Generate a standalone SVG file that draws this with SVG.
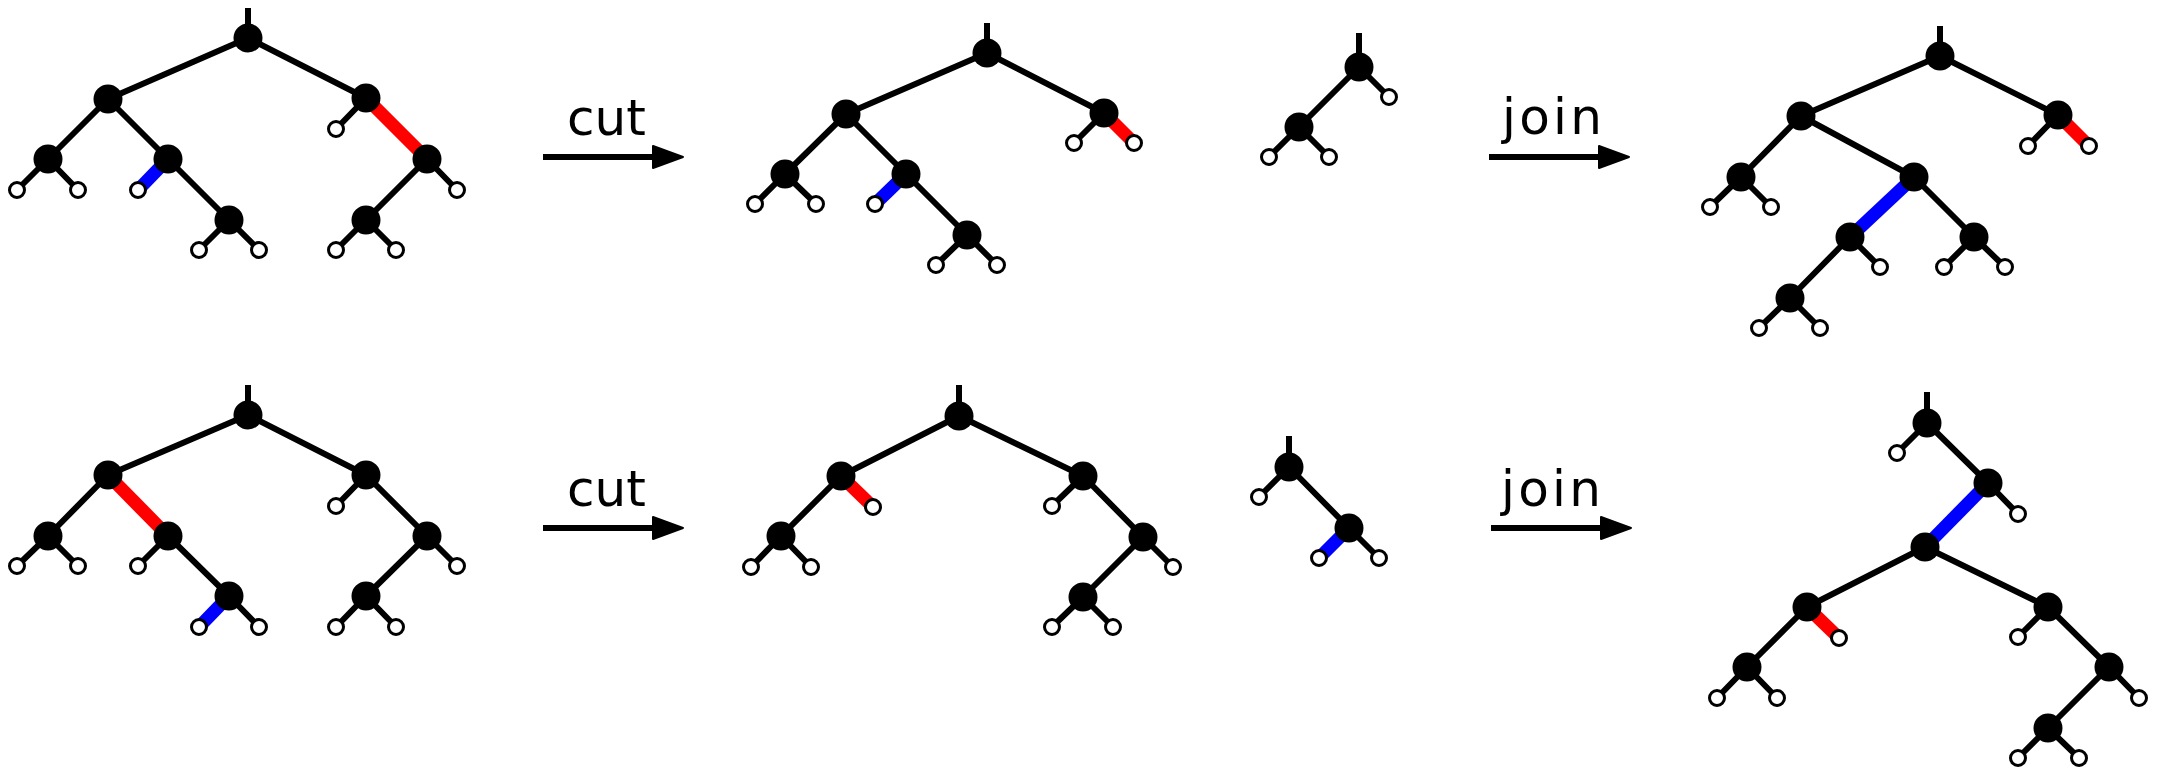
<svg xmlns="http://www.w3.org/2000/svg" xmlns:xlink="http://www.w3.org/1999/xlink" width="2157" height="774" viewBox="0 0 2157 774">
  <style>
    .e { stroke: #000; stroke-width: 6; fill: none; }
    .red { stroke: #ff0000; stroke-width: 13; fill: none; }
    .blue { stroke: #0000ff; stroke-width: 13; fill: none; }
    .n { fill: #000; }
    .l { fill: #fff; stroke: #000; stroke-width: 3; }
    .lbl { font-family: "DejaVu Sans", Verdana, sans-serif; font-size: 50px; fill: #000; }
  </style>
  <defs>
    <g id="arrow">
      <line x1="0" y1="0" x2="115" y2="0" stroke="#000" stroke-width="6"/>
      <path d="M110,-11 L140,0 L110,11 Z" fill="#000" stroke="#000" stroke-width="2" stroke-linejoin="round"/>
    </g>
  </defs>

  <rect width="2157" height="774" fill="#fff"/>

  <!-- operation arrows with labels -->
  <g id="ops">
    <text class="lbl" x="567" y="135">cut</text>
    <use xlink:href="#arrow" transform="translate(543,157)"/>
    <text class="lbl" x="1502" y="134" textLength="100" lengthAdjust="spacing">join</text>
    <use xlink:href="#arrow" transform="translate(1489,157)"/>
    <text class="lbl" x="567" y="506">cut</text>
    <use xlink:href="#arrow" transform="translate(543,528)"/>
    <text class="lbl" x="1501" y="506" textLength="100" lengthAdjust="spacing">join</text>
    <use xlink:href="#arrow" transform="translate(1491,528)"/>
  </g>

  <!-- connectors (tree edges) -->
  <g id="connectors">
    <!-- tree 1 -->
    <path class="e" d="M248,8 V38 M248,38 L108,99 M248,38 L366,98 M108,99 L48,159 M108,99 L168,159 M48,159 L17,190 M48,159 L78,190 M168,159 L229,220 M229,220 L199,250 M229,220 L259,250 M366,98 L336,129 M427,159 L457,190 M427,159 L366,220 M366,220 L336,250 M366,220 L396,250"/>
    <line class="blue" x1="168" y1="159" x2="138" y2="190"/>
    <line class="red" x1="366" y1="98" x2="427" y2="159"/>
    <!-- tree 2 -->
    <path class="e" d="M987,23 V53 M987,53 L846,114 M987,53 L1104,113 M1104,113 L1074,143 M846,114 L785,174 M846,114 L906,174 M785,174 L755,204 M785,174 L816,204 M906,174 L967,235 M967,235 L936,265 M967,235 L997,265"/>
    <line class="red" x1="1104" y1="113" x2="1134" y2="143"/>
    <line class="blue" x1="906" y1="174" x2="875" y2="204"/>
    <!-- tree 3 -->
    <path class="e" d="M1359,33 V67 M1359,67 L1389,97 M1359,67 L1299,127 M1299,127 L1269,157 M1299,127 L1329,157"/>
    <!-- tree 4 -->
    <path class="e" d="M1940,26 V56 M1940,56 L1801,116 M1940,56 L2058,115 M2058,115 L2028,146 M1801,116 L1741,177 M1801,116 L1914,177 M1741,177 L1710,207 M1741,177 L1771,207 M1914,177 L1974,237 M1974,237 L1944,267 M1974,237 L2005,267 M1850,237 L1880,267 M1850,237 L1790,298 M1790,298 L1759,328 M1790,298 L1820,328"/>
    <line class="red" x1="2058" y1="115" x2="2089" y2="146"/>
    <line class="blue" x1="1914" y1="177" x2="1850" y2="237"/>
    <!-- tree 5 -->
    <path class="e" d="M248,385 V415 M248,415 L108,475 M248,415 L366,475 M108,475 L48,536 M48,536 L17,566 M48,536 L78,566 M168,536 L138,566 M168,536 L229,596 M229,596 L259,627 M366,475 L336,506 M366,475 L427,536 M427,536 L457,566 M427,536 L366,596 M366,596 L336,627 M366,596 L396,627"/>
    <line class="red" x1="108" y1="475" x2="168" y2="536"/>
    <line class="blue" x1="229" y1="596" x2="199" y2="627"/>
    <!-- tree 6 -->
    <path class="e" d="M959,385 V416 M959,416 L841,476 M959,416 L1083,476 M841,476 L781,536 M781,536 L751,567 M781,536 L811,567 M1083,476 L1052,506 M1083,476 L1143,537 M1143,537 L1173,567 M1143,537 L1083,597 M1083,597 L1052,627 M1083,597 L1113,627"/>
    <line class="red" x1="841" y1="476" x2="873" y2="507"/>
    <!-- tree 7 -->
    <path class="e" d="M1289,436 V467 M1289,467 L1259,497 M1289,467 L1349,528 M1349,528 L1379,558"/>
    <line class="blue" x1="1349" y1="528" x2="1319" y2="558"/>
    <!-- tree 8 -->
    <path class="e" d="M1927,392 V423 M1927,423 L1897,453 M1927,423 L1988,483 M1988,483 L2018,514 M1925,547 L1807,607 M1925,547 L2048,607 M1807,607 L1747,667 M1747,667 L1717,698 M1747,667 L1777,698 M2048,607 L2018,637 M2048,607 L2109,667 M2109,667 L2139,698 M2109,667 L2048,728 M2048,728 L2018,758 M2048,728 L2079,758"/>
    <line class="blue" x1="1988" y1="483" x2="1925" y2="547"/>
    <line class="red" x1="1807" y1="607" x2="1839" y2="638"/>
  </g>

  <!-- tree 1 nodes -->
  <g id="tree1">
    <circle id="t1-r" class="n" cx="248" cy="38" r="14.5"/>
    <circle id="t1-a" class="n" cx="108" cy="99" r="14.5"/>
    <circle id="t1-b" class="n" cx="366" cy="98" r="14.5"/>
    <circle id="t1-aa" class="n" cx="48" cy="159" r="14.5"/>
    <circle id="t1-ab" class="n" cx="168" cy="159" r="14.5"/>
    <circle id="t1-abb" class="n" cx="229" cy="220" r="14.5"/>
    <circle id="t1-bb" class="n" cx="427" cy="159" r="14.5"/>
    <circle id="t1-bba" class="n" cx="366" cy="220" r="14.5"/>
    <circle id="t1-l1" class="l" cx="17" cy="190" r="7.5"/>
    <circle id="t1-l2" class="l" cx="78" cy="190" r="7.5"/>
    <circle id="t1-l3" class="l" cx="138" cy="190" r="7.5"/>
    <circle id="t1-l4" class="l" cx="199" cy="250" r="7.5"/>
    <circle id="t1-l5" class="l" cx="259" cy="250" r="7.5"/>
    <circle id="t1-l6" class="l" cx="336" cy="129" r="7.5"/>
    <circle id="t1-l7" class="l" cx="457" cy="190" r="7.5"/>
    <circle id="t1-l8" class="l" cx="336" cy="250" r="7.5"/>
    <circle id="t1-l9" class="l" cx="396" cy="250" r="7.5"/>
  </g>

  <!-- tree 2 nodes -->
  <g id="tree2">
    <circle id="t2-r" class="n" cx="987" cy="53" r="14.5"/>
    <circle id="t2-a" class="n" cx="846" cy="114" r="14.5"/>
    <circle id="t2-b" class="n" cx="1104" cy="113" r="14.5"/>
    <circle id="t2-aa" class="n" cx="785" cy="174" r="14.5"/>
    <circle id="t2-ab" class="n" cx="906" cy="174" r="14.5"/>
    <circle id="t2-abb" class="n" cx="967" cy="235" r="14.5"/>
    <circle id="t2-l1" class="l" cx="1074" cy="143" r="7.5"/>
    <circle id="t2-l2" class="l" cx="1134" cy="143" r="7.5"/>
    <circle id="t2-l3" class="l" cx="755" cy="204" r="7.5"/>
    <circle id="t2-l4" class="l" cx="816" cy="204" r="7.5"/>
    <circle id="t2-l5" class="l" cx="875" cy="204" r="7.5"/>
    <circle id="t2-l6" class="l" cx="936" cy="265" r="7.5"/>
    <circle id="t2-l7" class="l" cx="997" cy="265" r="7.5"/>
  </g>

  <!-- tree 3 nodes -->
  <g id="tree3">
    <circle id="t3-r" class="n" cx="1359" cy="67" r="14.5"/>
    <circle id="t3-a" class="n" cx="1299" cy="127" r="14.5"/>
    <circle id="t3-l1" class="l" cx="1389" cy="97" r="7.5"/>
    <circle id="t3-l2" class="l" cx="1269" cy="157" r="7.5"/>
    <circle id="t3-l3" class="l" cx="1329" cy="157" r="7.5"/>
  </g>

  <!-- tree 4 nodes -->
  <g id="tree4">
    <circle id="t4-r" class="n" cx="1940" cy="56" r="14.5"/>
    <circle id="t4-a" class="n" cx="1801" cy="116" r="14.5"/>
    <circle id="t4-b" class="n" cx="2058" cy="115" r="14.5"/>
    <circle id="t4-aa" class="n" cx="1741" cy="177" r="14.5"/>
    <circle id="t4-ab" class="n" cx="1914" cy="177" r="14.5"/>
    <circle id="t4-aba" class="n" cx="1850" cy="237" r="14.5"/>
    <circle id="t4-abb" class="n" cx="1974" cy="237" r="14.5"/>
    <circle id="t4-abaa" class="n" cx="1790" cy="298" r="14.5"/>
    <circle id="t4-l1" class="l" cx="2028" cy="146" r="7.5"/>
    <circle id="t4-l2" class="l" cx="2089" cy="146" r="7.5"/>
    <circle id="t4-l3" class="l" cx="1710" cy="207" r="7.5"/>
    <circle id="t4-l4" class="l" cx="1771" cy="207" r="7.5"/>
    <circle id="t4-l5" class="l" cx="1880" cy="267" r="7.5"/>
    <circle id="t4-l6" class="l" cx="1944" cy="267" r="7.5"/>
    <circle id="t4-l7" class="l" cx="2005" cy="267" r="7.5"/>
    <circle id="t4-l8" class="l" cx="1759" cy="328" r="7.5"/>
    <circle id="t4-l9" class="l" cx="1820" cy="328" r="7.5"/>
  </g>

  <!-- tree 5 nodes -->
  <g id="tree5">
    <circle id="t5-r" class="n" cx="248" cy="415" r="14.5"/>
    <circle id="t5-a" class="n" cx="108" cy="475" r="14.5"/>
    <circle id="t5-b" class="n" cx="366" cy="475" r="14.5"/>
    <circle id="t5-aa" class="n" cx="48" cy="536" r="14.5"/>
    <circle id="t5-ab" class="n" cx="168" cy="536" r="14.5"/>
    <circle id="t5-abb" class="n" cx="229" cy="596" r="14.5"/>
    <circle id="t5-bb" class="n" cx="427" cy="536" r="14.5"/>
    <circle id="t5-bba" class="n" cx="366" cy="596" r="14.5"/>
    <circle id="t5-l1" class="l" cx="17" cy="566" r="7.5"/>
    <circle id="t5-l2" class="l" cx="78" cy="566" r="7.5"/>
    <circle id="t5-l3" class="l" cx="138" cy="566" r="7.5"/>
    <circle id="t5-l4" class="l" cx="199" cy="627" r="7.5"/>
    <circle id="t5-l5" class="l" cx="259" cy="627" r="7.5"/>
    <circle id="t5-l6" class="l" cx="336" cy="506" r="7.5"/>
    <circle id="t5-l7" class="l" cx="457" cy="566" r="7.5"/>
    <circle id="t5-l8" class="l" cx="336" cy="627" r="7.5"/>
    <circle id="t5-l9" class="l" cx="396" cy="627" r="7.5"/>
  </g>

  <!-- tree 6 nodes -->
  <g id="tree6">
    <circle id="t6-r" class="n" cx="959" cy="416" r="14.5"/>
    <circle id="t6-a" class="n" cx="841" cy="476" r="14.5"/>
    <circle id="t6-aa" class="n" cx="781" cy="536" r="14.5"/>
    <circle id="t6-b" class="n" cx="1083" cy="476" r="14.5"/>
    <circle id="t6-bb" class="n" cx="1143" cy="537" r="14.5"/>
    <circle id="t6-bba" class="n" cx="1083" cy="597" r="14.5"/>
    <circle id="t6-l1" class="l" cx="873" cy="507" r="7.5"/>
    <circle id="t6-l2" class="l" cx="751" cy="567" r="7.5"/>
    <circle id="t6-l3" class="l" cx="811" cy="567" r="7.5"/>
    <circle id="t6-l4" class="l" cx="1052" cy="506" r="7.5"/>
    <circle id="t6-l5" class="l" cx="1173" cy="567" r="7.5"/>
    <circle id="t6-l6" class="l" cx="1052" cy="627" r="7.5"/>
    <circle id="t6-l7" class="l" cx="1113" cy="627" r="7.5"/>
  </g>

  <!-- tree 7 nodes -->
  <g id="tree7">
    <circle id="t7-r" class="n" cx="1289" cy="467" r="14.5"/>
    <circle id="t7-b" class="n" cx="1349" cy="528" r="14.5"/>
    <circle id="t7-l1" class="l" cx="1259" cy="497" r="7.5"/>
    <circle id="t7-l2" class="l" cx="1319" cy="558" r="7.5"/>
    <circle id="t7-l3" class="l" cx="1379" cy="558" r="7.5"/>
  </g>

  <!-- tree 8 nodes -->
  <g id="tree8">
    <circle id="t8-r" class="n" cx="1927" cy="423" r="14.5"/>
    <circle id="t8-b" class="n" cx="1988" cy="483" r="14.5"/>
    <circle id="t8-c" class="n" cx="1925" cy="547" r="14.5"/>
    <circle id="t8-ca" class="n" cx="1807" cy="607" r="14.5"/>
    <circle id="t8-caa" class="n" cx="1747" cy="667" r="14.5"/>
    <circle id="t8-cb" class="n" cx="2048" cy="607" r="14.5"/>
    <circle id="t8-cbb" class="n" cx="2109" cy="667" r="14.5"/>
    <circle id="t8-cbba" class="n" cx="2048" cy="728" r="14.5"/>
    <circle id="t8-l1" class="l" cx="1897" cy="453" r="7.5"/>
    <circle id="t8-l2" class="l" cx="2018" cy="514" r="7.5"/>
    <circle id="t8-l3" class="l" cx="1839" cy="638" r="7.5"/>
    <circle id="t8-l4" class="l" cx="1717" cy="698" r="7.5"/>
    <circle id="t8-l5" class="l" cx="1777" cy="698" r="7.5"/>
    <circle id="t8-l6" class="l" cx="2018" cy="637" r="7.5"/>
    <circle id="t8-l7" class="l" cx="2139" cy="698" r="7.5"/>
    <circle id="t8-l8" class="l" cx="2018" cy="758" r="7.5"/>
    <circle id="t8-l9" class="l" cx="2079" cy="758" r="7.5"/>
  </g>
</svg>
